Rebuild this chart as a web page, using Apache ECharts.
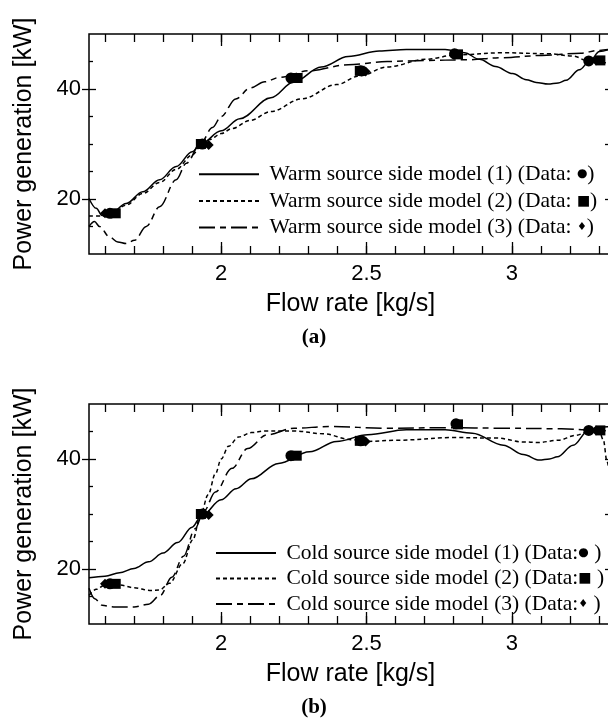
<!DOCTYPE html>
<html><head><meta charset="utf-8">
<script src="https://cdn.jsdelivr.net/npm/echarts@6/dist/echarts.min.js"></script>
<style>html,body{margin:0;padding:0;background:#fff}#c{width:608px;height:724px}</style>
</head><body><div id="c"></div>
<script>
// ---- axes ----
const xMin = 1.545, xMax = 3.345;
const yMin = 10, yMax = 50;
const xTickLabels = [2, 2.5, 3];
const xMajorTicks = [2, 2.5, 3];
const xMinorTicks = [1.6, 1.7, 1.8, 1.9, 2.0, 2.1, 2.2, 2.3, 2.4, 2.5, 2.6, 2.7, 2.8, 2.9, 3.0, 3.1, 3.2, 3.3];
const yTickLabels = [20, 40];
const yMinorTicks = [15, 25, 30, 35, 45];
const yRightTicks = [20, 30, 40];
const xName = 'Flow rate [kg/s]';
const yName = 'Power generation [kW]';
const panelLabels = ['(a)', '(b)'];

// ---- (a) warm source side ----
const warmNames = ['Warm source side model (1)', 'Warm source side model (2)', 'Warm source side model (3)'];
const warmModel1 = [[1.545,20.1],[1.57,18.3],[1.59,17.0],[1.616,17.2],[1.673,19.2],[1.73,21.3],[1.788,23.5],[1.845,25.9],[1.90,28.6],[1.93,30.0],[2.0,32.4],[2.064,34.6],[2.171,38.4],[2.251,41.3],[2.344,44.0],[2.437,45.9],[2.544,46.9],[2.637,47.2],[2.771,47.2],[2.837,46.6],[2.889,45.4],[2.944,44.1],[3.003,42.8],[3.05,41.7],[3.084,41.2],[3.125,40.9],[3.16,41.1],[3.187,41.6],[3.233,43.5],[3.267,45.0],[3.302,46.8],[3.345,47.4]];
const warmModel2 = [[1.545,16.9],[1.59,16.9],[1.62,17.3],[1.673,18.9],[1.73,21.0],[1.788,23.0],[1.845,25.4],[1.90,28.0],[1.93,29.6],[1.96,30.8],[2.0,31.9],[2.037,32.8],[2.1,34.3],[2.171,35.9],[2.277,38.2],[2.397,40.8],[2.477,42.4],[2.571,44.0],[2.704,45.4],[2.811,46.2],[2.97,46.6],[3.131,46.4],[3.21,46.0],[3.264,45.1],[3.30,44.8],[3.345,44.7]];
const warmModel3 = [[1.545,15.0],[1.564,15.9],[1.581,15.0],[1.616,13.1],[1.644,12.2],[1.673,11.9],[1.702,12.5],[1.742,15.0],[1.788,18.6],[1.845,23.5],[1.88,26.5],[1.93,30.2],[1.97,33.0],[2.0,35.0],[2.05,38.2],[2.1,40.2],[2.15,41.3],[2.2,42.1],[2.3,43.3],[2.437,44.4],[2.571,45.0],[2.704,45.2],[2.837,45.3],[2.971,45.7],[3.104,46.1],[3.237,46.5],[3.296,47.0],[3.345,47.3]];
const warmData1 = [[1.617,17.4],[1.935,30.0],[2.240,42.0],[2.480,43.3],[2.803,46.4],[3.265,45.1]];
const warmData2 = [[1.637,17.4],[1.930,30.0],[2.263,42.0],[2.477,43.3],[2.815,46.3],[3.305,45.2]];
const warmData3 = [[1.600,17.4],[1.957,29.8],[2.250,42.0],[2.497,43.2],[2.810,46.4],[3.290,45.2]];

// ---- (b) cold source side ----
const coldNames = ['Cold source side model (1)', 'Cold source side model (2)', 'Cold source side model (3)'];
const coldModel1 = [[1.545,18.4],[1.60,18.7],[1.65,19.3],[1.70,20.1],[1.75,21.3],[1.80,22.9],[1.85,24.8],[1.90,27.6],[1.93,29.5],[2.0,32.6],[2.051,34.6],[2.104,36.4],[2.197,39.2],[2.304,41.3],[2.397,43.2],[2.504,44.4],[2.637,45.3],[2.771,45.3],[2.864,44.7],[2.971,42.5],[3.04,40.8],[3.095,39.8],[3.13,40.0],[3.157,40.4],[3.211,42.5],[3.264,45.2],[3.30,45.8],[3.345,45.9]];
const coldModel2 = [[1.545,15.2],[1.57,16.3],[1.60,17.1],[1.65,17.1],[1.70,16.6],[1.754,16.1],[1.788,16.2],[1.822,17.4],[1.868,21.0],[1.902,25.3],[1.93,30.0],[1.955,33.5],[1.98,37.3],[2.0,40.0],[2.025,42.3],[2.06,44.0],[2.104,44.8],[2.15,45.1],[2.25,45.1],[2.35,44.6],[2.45,43.5],[2.5,43.2],[2.6,43.4],[2.8,43.9],[2.95,43.8],[3.04,43.1],[3.09,43.0],[3.16,43.4],[3.22,44.3],[3.264,45.0],[3.30,45.2],[3.315,43.5],[3.328,39.5],[3.345,33.0]];
const coldModel3 = [[1.545,16.5],[1.565,14.6],[1.59,13.4],[1.63,13.1],[1.70,13.1],[1.75,13.6],[1.79,15.2],[1.83,18.5],[1.87,22.3],[1.91,27.3],[1.94,30.5],[1.98,34.0],[2.037,38.3],[2.091,41.9],[2.157,44.4],[2.251,45.6],[2.371,45.9],[2.571,45.6],[2.771,45.7],[2.971,45.6],[3.171,45.5],[3.264,45.3],[3.30,45.2],[3.345,45.0]];
const coldData1 = [[1.617,17.3],[1.935,30.0],[2.240,40.6],[2.480,43.3],[2.808,46.4],[3.265,45.2]];
const coldData2 = [[1.637,17.3],[1.930,30.0],[2.260,40.6],[2.477,43.3],[2.815,46.3],[3.305,45.2]];
const coldData3 = [[1.600,17.3],[1.957,29.8],[2.250,40.6],[2.497,43.2],[2.810,46.4],[3.290,45.2]];

// ---- styling ----
const SANS = 'Liberation Sans, Arial, sans-serif';
const SERIF = 'Liberation Serif, Times New Roman, serif';
const dashTypes = ['solid', [4, 3], [16, 5, 6, 5]];
const markerSymbols = ['circle', 'rect', 'diamond'];
const markerSizes = [11, 10, 10];
const tickLine = {color: '#000', width: 1.3};

function xAxes(g) {
  const base = {gridIndex: g, type: 'value', min: xMin, max: xMax,
    axisLine: {show: false, onZero: false}, splitLine: {show: false}};
  return [
    Object.assign({}, base, {position: 'bottom',
      axisTick: {show: true, inside: true, length: 8, customValues: xMinorTicks, lineStyle: tickLine},
      axisLabel: {show: true, customValues: xTickLabels, margin: 9, fontSize: 22, color: '#000', fontFamily: SANS},
      name: xName, nameLocation: 'middle', nameGap: 38,
      nameTextStyle: {fontSize: 25, color: '#000', fontFamily: SANS}}),
    Object.assign({}, base, {position: 'bottom',
      axisTick: {show: true, inside: true, length: 12, customValues: xMajorTicks, lineStyle: tickLine},
      axisLabel: {show: false}}),
    Object.assign({}, base, {position: 'top',
      axisTick: {show: true, inside: true, length: 8, customValues: xMinorTicks, lineStyle: tickLine},
      axisLabel: {show: false}}),
    Object.assign({}, base, {position: 'top',
      axisTick: {show: true, inside: true, length: 12, customValues: xMajorTicks, lineStyle: tickLine},
      axisLabel: {show: false}})
  ];
}
function yAxes(g) {
  const base = {gridIndex: g, type: 'value', min: yMin, max: yMax,
    axisLine: {show: false, onZero: false}, splitLine: {show: false}};
  return [
    Object.assign({}, base, {position: 'left',
      axisTick: {show: true, inside: false, length: 7, customValues: yTickLabels, lineStyle: tickLine},
      axisLabel: {show: true, customValues: yTickLabels, margin: 8, fontSize: 22, color: '#000', fontFamily: SANS},
      name: yName, nameLocation: 'middle', nameGap: 52, nameRotate: 90,
      nameTextStyle: {fontSize: 25, color: '#000', fontFamily: SANS}}),
    Object.assign({}, base, {position: 'left',
      axisTick: {show: true, inside: true, length: 7, customValues: yTickLabels, lineStyle: tickLine},
      axisLabel: {show: false}}),
    Object.assign({}, base, {position: 'left',
      axisTick: {show: true, inside: true, length: 4, customValues: yMinorTicks, lineStyle: tickLine},
      axisLabel: {show: false}}),
    Object.assign({}, base, {position: 'right',
      axisTick: {show: true, inside: true, length: 7, customValues: yRightTicks, lineStyle: tickLine},
      axisLabel: {show: false}})
  ];
}

function panelSeries(g, names, models, datas) {
  const out = [];
  models.forEach((m, i) => out.push({
    type: 'line', name: names[i], xAxisIndex: g * 4, yAxisIndex: g * 4, data: m,
    smooth: 0.35, smoothMonotone: 'x', symbol: 'none', showSymbol: false,
    lineStyle: {color: '#000', width: 1.5, type: dashTypes[i]}, itemStyle: {color: '#000'},
    z: 2, silent: true
  }));
  datas.forEach((d, i) => out.push({
    type: 'scatter', name: names[i] + ' data', xAxisIndex: g * 4, yAxisIndex: g * 4, data: d,
    symbol: markerSymbols[i], symbolSize: markerSizes[i], itemStyle: {color: '#000', opacity: 1},
    z: 3 + i, silent: true
  }));
  return out;
}

const richStyles = {
  t: {fontFamily: SERIF, fontSize: 21.5, lineHeight: 22, color: '#000'},
  c: {fontFamily: 'DejaVu Sans', fontSize: 12, lineHeight: 22, color: '#000'},
  q: {fontFamily: 'DejaVu Sans', fontSize: 14, lineHeight: 22, color: '#000'},
  d: {fontFamily: 'DejaVu Sans', fontSize: 11, lineHeight: 22, color: '#000'}
};
const symTokens = ['{c|●}', '{q|■}', '{d|♦}'];
function legendFor(names, warm, left, top, gap) {
  return {
    orient: 'vertical', left: left, top: top, padding: 0, itemGap: gap,
    itemWidth: 60, itemHeight: 14, data: names, selectedMode: false,
    itemStyle: {color: 'rgba(0,0,0,0)', borderColor: 'rgba(0,0,0,0)', borderWidth: 0},
    formatter: function (name) {
      const i = names.indexOf(name);
      return warm
        ? '{t| ' + name + ' (Data: }' + symTokens[i] + '{t|)}'
        : '{t| ' + name + ' (Data:}' + symTokens[i] + '{t| )}';
    },
    textStyle: {rich: richStyles, color: '#000'}
  };
}

const chart = echarts.init(document.getElementById('c'), null, {renderer: 'canvas'});
chart.setOption({
  animation: false,
  backgroundColor: '#fff',
  grid: [
    {left: 89, top: 34, width: 523, height: 220, show: true, borderColor: '#000', borderWidth: 1.5, backgroundColor: 'transparent', containLabel: false, outerBoundsMode: 'none'},
    {left: 89, top: 404, width: 523, height: 220, show: true, borderColor: '#000', borderWidth: 1.5, backgroundColor: 'transparent', containLabel: false, outerBoundsMode: 'none'}
  ],
  xAxis: xAxes(0).concat(xAxes(1)),
  yAxis: yAxes(0).concat(yAxes(1)),
  legend: [
    legendFor(warmNames, true, 198, 163.3, 4.6),
    legendFor(coldNames, false, 215, 542.0, 3.5)
  ],
  graphic: [
    {type: 'text', x: 314, y: 338, style: {text: panelLabels[0], font: 'bold 21px ' + SERIF, fill: '#000', textAlign: 'center', textVerticalAlign: 'middle'}},
    {type: 'text', x: 314, y: 708, style: {text: panelLabels[1], font: 'bold 21px ' + SERIF, fill: '#000', textAlign: 'center', textVerticalAlign: 'middle'}}
  ],
  series: panelSeries(0, warmNames, [warmModel1, warmModel2, warmModel3], [warmData1, warmData2, warmData3])
    .concat(panelSeries(1, coldNames, [coldModel1, coldModel2, coldModel3], [coldData1, coldData2, coldData3]))
});
</script></body></html>
